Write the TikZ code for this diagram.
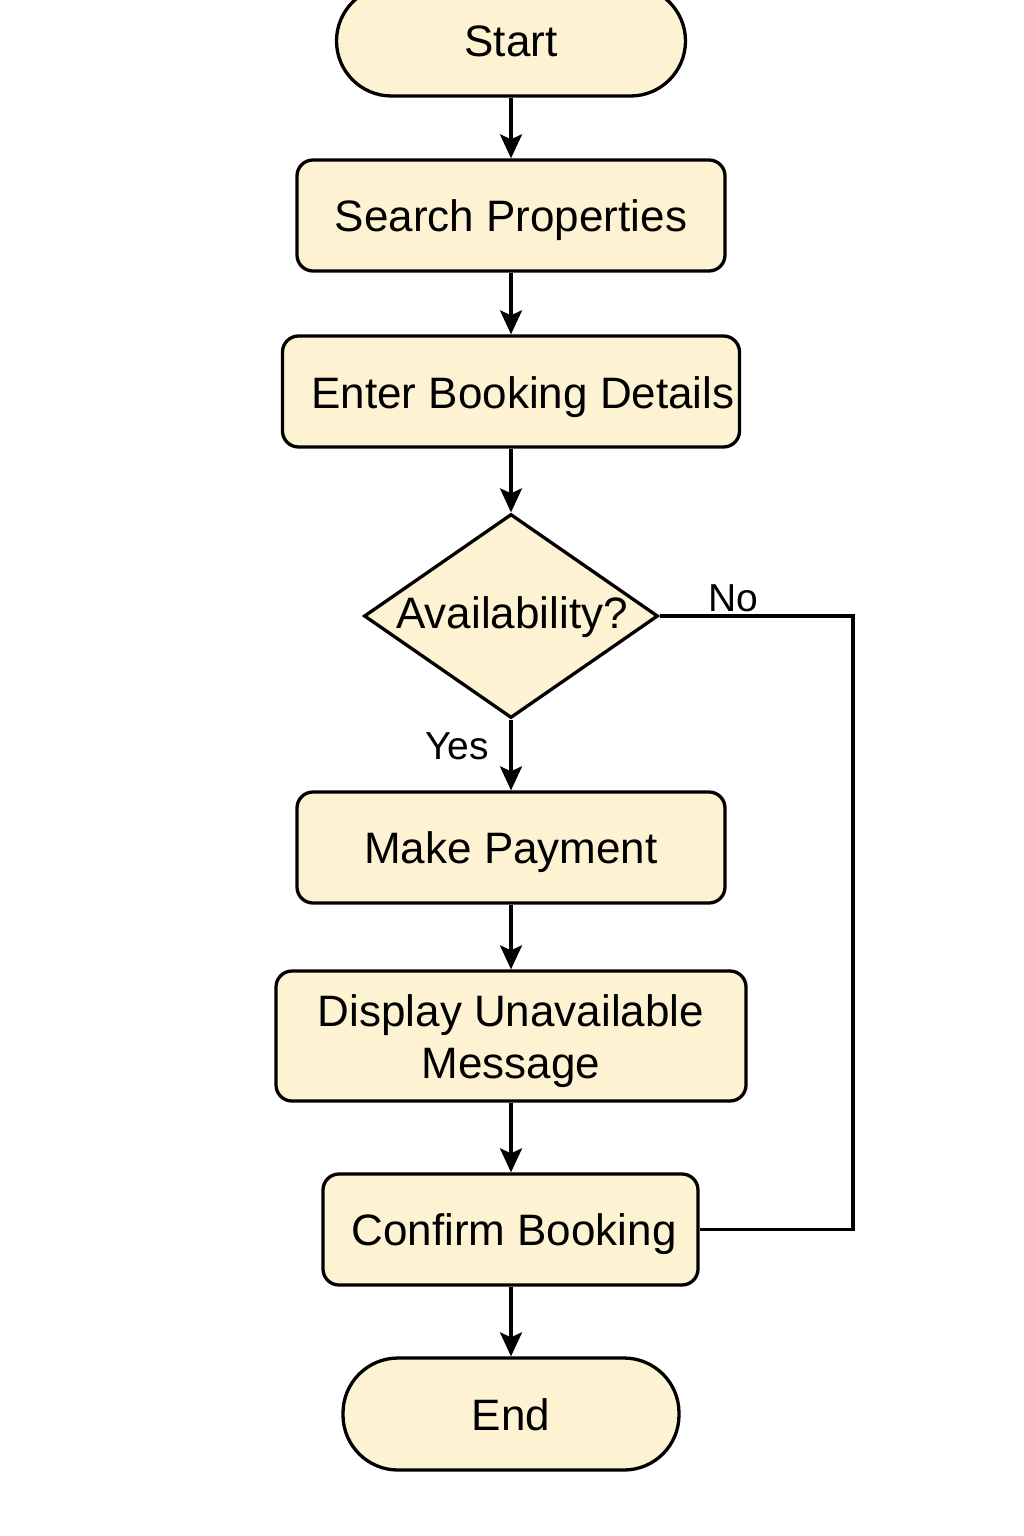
\documentclass[tikz,border=0pt]{standalone}
\usepackage{fontspec}
\setmainfont{Liberation Sans}
\usetikzlibrary{shapes.geometric,arrows.meta}
\definecolor{cream}{HTML}{FDF3D2}
\begin{document}
\begin{tikzpicture}[x=1pt,y=-1pt,
  box/.style={draw, line width=3.3pt, fill=cream, rounded corners=16pt, inner sep=0pt,
    font=\fontsize{44}{52}\selectfont, align=center, text height=32pt, text depth=0pt},
  term/.style={box, rounded corners=55pt},
  txt/.style={inner sep=0pt, font=\fontsize{44}{52}\selectfont, align=center, text height=32pt, text depth=0pt},
  lbl/.style={inner sep=0pt, font=\fontsize{39}{44}\selectfont, text height=28pt, text depth=0pt},
  arr/.style={line width=3.3pt, -{Stealth[length=24pt,width=22pt,inset=5pt]}},
  link/.style={line width=3.3pt}]
\useasboundingbox (0,0) rectangle (1024,1536);
\node[term, minimum width=349pt, minimum height=110pt] (start) at (511,41) {Start};
\node[box, minimum width=428pt, minimum height=111pt] (search) at (511,215.5) {Search Properties};
\node[box, minimum width=457pt, minimum height=111pt] (enter) at (511,391.5) {};
\node[txt] (entertxt) at (523,392) {Enter Booking Details};
\node[diamond, draw, line width=3.3pt, fill=cream, inner sep=0pt, minimum width=294pt, minimum height=204pt] (dia) at (511,616) {};
\node[txt] (diatxt) at (512,612.5) {Availability?};
\node[box, minimum width=428pt, minimum height=111pt] (pay) at (511,847.5) {Make Payment};
\node[box, minimum width=470pt, minimum height=130pt, text height=84pt, text depth=0pt] (disp) at (511,1036) {Display Unavailable\\Message};
\node[box, minimum width=375pt, minimum height=111pt] (confirm) at (510.5,1229.5) {};
\node[txt] (confirmtxt) at (514,1229.5) {Confirm Booking};
\node[term, minimum width=336pt, minimum height=112pt] (end) at (511,1414) {End};
\coordinate (nocorner) at (853,616);
\draw[arr] (start.south) -- (search.north);
\draw[arr] (search.south) -- (enter.north);
\draw[arr] (enter.south) -- (dia.north);
\draw[arr] (dia.south) -- (pay.north);
\draw[arr] (pay.south) -- (disp.north);
\draw[arr] (disp.south) -- (disp.south |- confirm.north);
\draw[arr] (confirm.south -| end.north) -- (end.north);
\draw[link] (dia.east) -- (nocorner) |- (confirm.east);
\node[lbl] (nolbl) at (733,597) {No};
\node[lbl] (yeslbl) at (457,745) {Yes};
\end{tikzpicture}
\end{document}
